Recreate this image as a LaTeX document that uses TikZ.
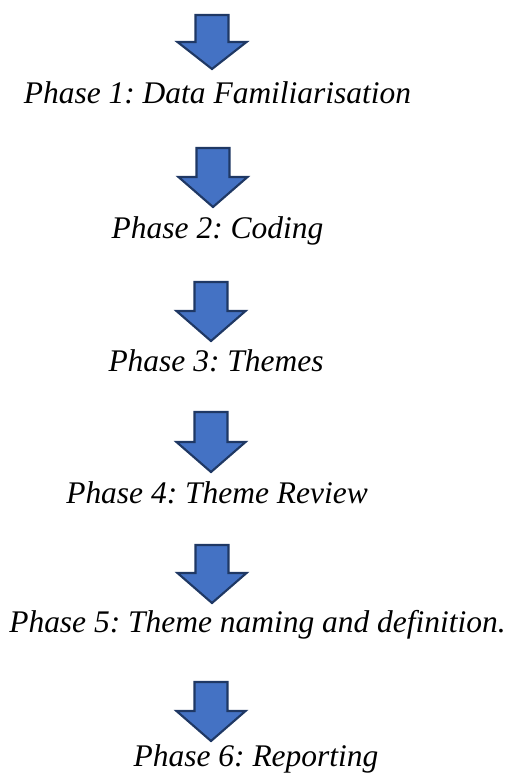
\documentclass[tikz,border=0pt]{standalone}
\usepackage{fontspec}
\setmainfont{Liberation Serif}
\frenchspacing
\definecolor{arrowfill}{HTML}{4472C4}
\definecolor{arrowline}{HTML}{1F3864}
\tikzset{
  phaselabel/.style={anchor=base, inner sep=0pt, font=\fontsize{23.6}{28}\selectfont\itshape},
  blockarrow/.style={fill=arrowfill, draw=arrowline, line width=1.6pt, line join=miter},
}
% block arrow pointing down: #1 centre x, #2 top, #3 top of head, #4 tip
\newcommand{\downblock}[4]{%
  \draw[blockarrow] (#1-16.5,#2) -- (#1+16.5,#2) -- (#1+16.5,#3) -- (#1+34.5,#3)
    -- (#1,#4) -- (#1-34.5,#3) -- (#1-16.5,#3) -- cycle;}
\begin{document}
\begin{tikzpicture}[x=0.75pt, y=-0.75pt]
  \useasboundingbox (0,0) rectangle (519,778);

  \downblock{212}{15}{42}{69}
  \node[phaselabel] (p1) at (217.5,103) {Phase 1: Data Familiarisation};

  \downblock{213}{148}{177}{207}
  \node[phaselabel] (p2) at (217.5,238) {Phase 2: Coding};

  \downblock{211}{282}{311}{341}
  \node[phaselabel] (p3) at (216,371) {Phase 3: Themes};

  \downblock{211}{412}{442}{472}
  \node[phaselabel] (p4) at (217,503) {Phase 4: Theme Review};

  \downblock{212}{545}{573}{603}
  \node[phaselabel] (p5) at (257.5,632) {Phase 5: Theme naming and definition.};

  \downblock{211}{682}{711}{741}
  \node[phaselabel] (p6) at (256,766) {Phase 6: Reporting};
\end{tikzpicture}
\end{document}
